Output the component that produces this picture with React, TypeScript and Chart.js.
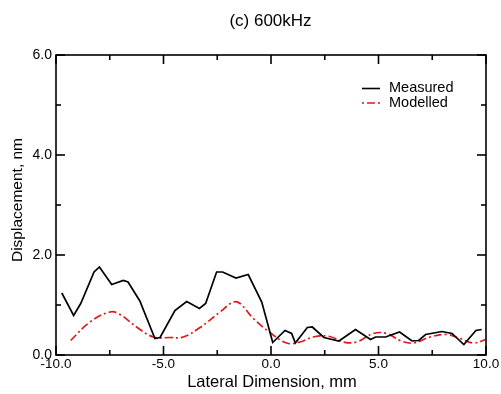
import React, { useEffect, useRef } from 'react';
import { Chart, registerables } from 'chart.js';

Chart.register(...registerables);

const measuredX = [-9.73, -9.18, -8.85, -8.23, -7.98, -7.41, -6.87, -6.65, -6.1, -5.4, -5.16, -4.47, -3.92, -3.33, -3.04, -2.53, -2.25, -1.63, -1.06, -0.43, 0.08, 0.65, 0.96, 1.13, 1.69, 1.92, 2.46, 3.16, 3.93, 4.63, 4.86, 5.33, 5.98, 6.56, 6.87, 7.19, 7.95, 8.42, 8.97, 9.53, 9.8];
const measuredY = [1.24, 0.79, 1.03, 1.66, 1.76, 1.41, 1.49, 1.46, 1.08, 0.33, 0.35, 0.89, 1.07, 0.93, 1.03, 1.66, 1.66, 1.54, 1.61, 1.06, 0.25, 0.49, 0.43, 0.24, 0.55, 0.56, 0.35, 0.28, 0.51, 0.31, 0.36, 0.36, 0.46, 0.28, 0.29, 0.41, 0.47, 0.43, 0.21, 0.49, 0.51];

const modelledX = [-9.32, -8.42, -7.49, -7.02, -6.25, -5.47, -4.7, -4.08, -3.3, -2.37, -1.75, -1.44, -0.82, -0.05, 0.73, 1.35, 1.97, 2.74, 3.36, 3.98, 4.76, 5.38, 6.0, 6.62, 7.4, 8.17, 8.79, 9.41, 9.98];
const modelledY = [0.29, 0.66, 0.86, 0.81, 0.56, 0.36, 0.35, 0.36, 0.55, 0.86, 1.06, 1.03, 0.73, 0.45, 0.24, 0.26, 0.36, 0.37, 0.26, 0.26, 0.43, 0.43, 0.29, 0.24, 0.36, 0.41, 0.33, 0.24, 0.31];

const xMajorTicks = [-10, -5, 0, 5, 10];
const xMinorTicks = [-7.5, -2.5, 2.5, 7.5];
const yMajorTicks = [0, 2, 4, 6];
const yMinorTicks = [1, 3, 5];

const seriesNames = ['Measured', 'Modelled'];
const titleText = '(c) 600kHz';
const xTitle = 'Lateral Dimension, mm';
const yTitle = 'Displacement, nm';

const RED = '#dd1a1a';
const FONT = '"Liberation Sans", Arial, Helvetica, sans-serif';
const DASHDOT = [8, 3, 2, 3];

const framePlugin = {
  id: 'frame',
  afterDraw(chart: any) {
    const { ctx, chartArea: a, scales } = chart;
    const xs = scales.x;
    const ys = scales.y;
    ctx.save();
    ctx.strokeStyle = '#000';
    ctx.lineWidth = 1.6;
    ctx.setLineDash([]);
    ctx.strokeRect(a.left, a.top, a.right - a.left, a.bottom - a.top);
    const tick = (x1: number, y1: number, x2: number, y2: number) => {
      ctx.beginPath();
      ctx.moveTo(x1, y1);
      ctx.lineTo(x2, y2);
      ctx.stroke();
    };
    const MAJ = 9;
    const MIN = 5;
    xMajorTicks.forEach((v) => {
      const p = xs.getPixelForValue(v);
      tick(p, a.bottom, p, a.bottom - MAJ);
      tick(p, a.top, p, a.top + MAJ);
    });
    xMinorTicks.forEach((v) => {
      const p = xs.getPixelForValue(v);
      tick(p, a.bottom, p, a.bottom - MIN);
      tick(p, a.top, p, a.top + MIN);
    });
    yMajorTicks.forEach((v) => {
      const p = ys.getPixelForValue(v);
      tick(a.left, p, a.left + MAJ, p);
      tick(a.right, p, a.right - MAJ, p);
    });
    yMinorTicks.forEach((v) => {
      const p = ys.getPixelForValue(v);
      tick(a.left, p, a.left + MIN, p);
      tick(a.right, p, a.right - MIN, p);
    });

    // Titles
    ctx.fillStyle = '#000';
    ctx.textAlign = 'center';
    ctx.textBaseline = 'middle';
    ctx.font = `17px ${FONT}`;
    ctx.fillText(titleText, 270.5, 21);
    ctx.font = `16.5px ${FONT}`;
    ctx.fillText(xTitle, 272, 382);
    ctx.save();
    ctx.translate(17.5, 200);
    ctx.rotate(-Math.PI / 2);
    ctx.font = `15.5px ${FONT}`;
    ctx.fillText(yTitle, 0, 0);
    ctx.restore();

    // Legend
    ctx.font = `14.5px ${FONT}`;
    ctx.textAlign = 'left';
    ctx.lineWidth = 1.6;
    ctx.strokeStyle = '#000';
    ctx.setLineDash([]);
    tick(362, 88.5, 380, 88.5);
    ctx.fillText(seriesNames[0], 389, 88);
    ctx.strokeStyle = RED;
    ctx.setLineDash([2, 3, 8, 3]);
    tick(362, 103, 381, 103);
    ctx.setLineDash([]);
    ctx.fillText(seriesNames[1], 389, 103);
    ctx.restore();
  },
};

export default function App() {
  const ref = useRef<HTMLCanvasElement | null>(null);
  useEffect(() => {
    if (!ref.current) return;
    const chart = new Chart(ref.current, {
      type: 'line',
      data: {
        datasets: [
          {
            label: seriesNames[0],
            data: measuredX.map((x, i) => ({ x, y: measuredY[i] })),
            borderColor: '#000',
            borderWidth: 1.7,
            pointRadius: 0,
            tension: 0,
            fill: false,
          },
          {
            label: seriesNames[1],
            data: modelledX.map((x, i) => ({ x, y: modelledY[i] })),
            borderColor: RED,
            borderWidth: 1.7,
            borderDash: DASHDOT,
            pointRadius: 0,
            tension: 0.4,
            fill: false,
          },
        ],
      },
      options: {
        animation: false,
        responsive: false,
        devicePixelRatio: 1,
        layout: { padding: { top: 55, right: 15, left: 0, bottom: 0 } },
        plugins: { legend: { display: false }, tooltip: { enabled: false }, title: { display: false } },
        scales: {
          x: {
            type: 'linear',
            min: -10,
            max: 10,
            border: { display: false },
            grid: { display: false, drawTicks: false },
            afterBuildTicks: (s: any) => {
              s.ticks = xMajorTicks.map((v) => ({ value: v }));
            },
            afterFit: (s: any) => {
              s.height = 39;
            },
            ticks: {
              padding: 1,
              color: '#000',
              maxRotation: 0,
              autoSkip: false,
              font: { family: FONT, size: 13.5 },
              callback: (v: any) => Number(v).toFixed(1),
            },
          },
          y: {
            type: 'linear',
            min: 0,
            max: 6,
            border: { display: false },
            grid: { display: false, drawTicks: false },
            afterBuildTicks: (s: any) => {
              s.ticks = yMajorTicks.map((v) => ({ value: v }));
            },
            afterFit: (s: any) => {
              s.width = 56;
            },
            ticks: {
              padding: 4,
              color: '#000',
              autoSkip: false,
              font: { family: FONT, size: 14 },
              callback: (v: any) => Number(v).toFixed(1),
            },
          },
        },
      },
      plugins: [framePlugin],
    } as any);
    return () => chart.destroy();
  }, []);
  return (
    <div style={{ position: 'fixed', left: 0, top: 0, width: 501, height: 394, background: '#fff' }}>
      <canvas ref={ref} width={501} height={394} style={{ width: 501, height: 394, display: 'block' }} />
    </div>
  );
}
